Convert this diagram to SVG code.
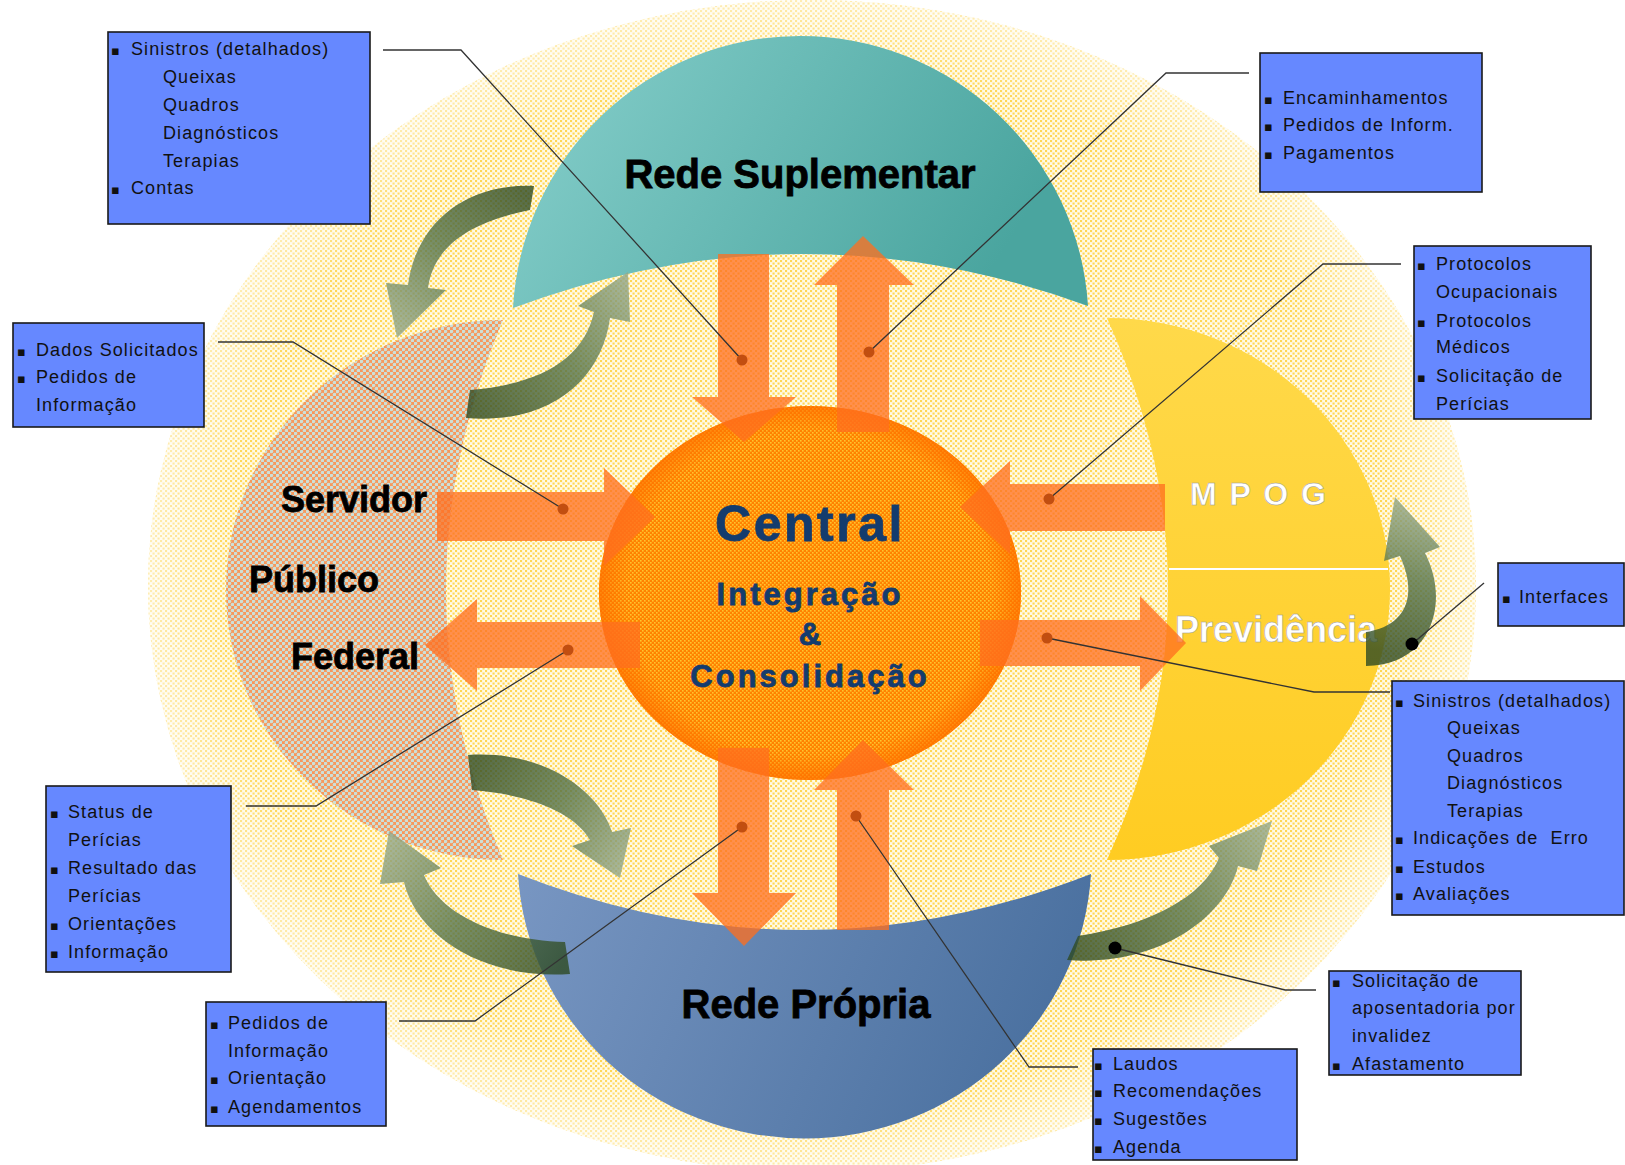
<svg xmlns="http://www.w3.org/2000/svg" width="1625" height="1165" viewBox="0 0 1625 1165">
<defs>
<pattern id="dotsY" width="5" height="5" patternUnits="userSpaceOnUse"><rect width="5" height="5" fill="#FFFAE6"/><rect width="2.1" height="2.1" fill="#FFD653"/><rect x="2.5" y="2.5" width="2.1" height="2.1" fill="#FFD653"/></pattern>
<pattern id="dotsO" width="4" height="4" patternUnits="userSpaceOnUse"><rect width="4" height="4" fill="#FF8200"/><rect width="1.6" height="1.6" fill="#FFC42E"/><rect x="2" y="2" width="1.6" height="1.6" fill="#FFC42E"/></pattern>
<pattern id="hatch" width="6" height="6" patternUnits="userSpaceOnUse"><rect width="6" height="6" fill="#F7985C"/><circle cx="1.5" cy="1.5" r="1.8" fill="#CDE0D8"/><circle cx="4.5" cy="4.5" r="1.8" fill="#CDE0D8"/></pattern>
<radialGradient id="ring" cx="0.5" cy="0.5" r="0.5"><stop offset="0.86" stop-color="#FF7000" stop-opacity="0"/><stop offset="1" stop-color="#FF7000" stop-opacity="0.75"/></radialGradient>
<radialGradient id="fade" cx="0.5" cy="0.5" r="0.5"><stop offset="0.88" stop-color="#FFFFFF" stop-opacity="0"/><stop offset="1" stop-color="#FFFFFF" stop-opacity="0.55"/></radialGradient>
<linearGradient id="teal" x1="0" y1="0" x2="1" y2="0.3"><stop offset="0" stop-color="#88D0CC"/><stop offset="1" stop-color="#4AA59F"/></linearGradient>
<linearGradient id="blue" x1="0" y1="0" x2="1" y2="0.2"><stop offset="0" stop-color="#7896C2"/><stop offset="1" stop-color="#4B71A0"/></linearGradient>
<linearGradient id="yel" x1="0" y1="0" x2="0" y2="1"><stop offset="0" stop-color="#FFD94A"/><stop offset="1" stop-color="#FFCC22"/></linearGradient>
<linearGradient id="g1" gradientUnits="userSpaceOnUse" x1="530" y1="198" x2="396" y2="342"><stop offset="0" stop-color="#2E4A22"/><stop offset="0.5" stop-color="#557349"/><stop offset="1" stop-color="#97AA8C"/></linearGradient>
<linearGradient id="g2" gradientUnits="userSpaceOnUse" x1="468" y1="403" x2="632" y2="272"><stop offset="0" stop-color="#2E4A22"/><stop offset="0.5" stop-color="#557349"/><stop offset="1" stop-color="#97AA8C"/></linearGradient>
<linearGradient id="g3" gradientUnits="userSpaceOnUse" x1="470" y1="773" x2="622" y2="881"><stop offset="0" stop-color="#2E4A22"/><stop offset="0.5" stop-color="#557349"/><stop offset="1" stop-color="#97AA8C"/></linearGradient>
<linearGradient id="g4" gradientUnits="userSpaceOnUse" x1="568" y1="957" x2="387" y2="829"><stop offset="0" stop-color="#2E4A22"/><stop offset="0.5" stop-color="#557349"/><stop offset="1" stop-color="#97AA8C"/></linearGradient>
<linearGradient id="g5" gradientUnits="userSpaceOnUse" x1="1366" y1="648" x2="1397" y2="495"><stop offset="0" stop-color="#2E4A22"/><stop offset="0.5" stop-color="#557349"/><stop offset="1" stop-color="#97AA8C"/></linearGradient>
<linearGradient id="g6" gradientUnits="userSpaceOnUse" x1="1072" y1="947" x2="1273" y2="819"><stop offset="0" stop-color="#2E4A22"/><stop offset="0.5" stop-color="#557349"/><stop offset="1" stop-color="#97AA8C"/></linearGradient>
<style>
.box rect{fill:#6688FF;stroke:#1A1A1A;stroke-width:1.6}
.box text{font-family:"Liberation Sans","DejaVu Sans",sans-serif;font-size:18px;letter-spacing:1.1px;fill:#111}
.box .b{font-family:"DejaVu Sans",sans-serif;font-size:13px;letter-spacing:0}
.lbl{font-family:"Liberation Sans",sans-serif;font-weight:bold;fill:#000;stroke:#000;stroke-width:0.8}
.ctr{font-family:"Liberation Sans",sans-serif;font-weight:bold;fill:#143C6E;stroke:#143C6E;stroke-width:0.8;text-anchor:middle}
.wht{font-family:"Liberation Sans",sans-serif;font-weight:bold;fill:#FFFFFF;stroke:#9A9A9A;stroke-width:0.5}
.oa{fill:#FF6E1E;opacity:0.76}
.ga{opacity:0.8}
.con path{fill:none;stroke:#333;stroke-width:1.3}
.dot{fill:#C24E10}
</style>
</defs>
<rect width="1625" height="1165" fill="#FFFFFF"/>
<g id="background">
<ellipse cx="812" cy="586" rx="664" ry="586" fill="url(#dotsY)"/>
<ellipse cx="812" cy="586" rx="664" ry="586" fill="url(#fade)"/>
</g>

<g id="rede-suplementar">
<path d="M513 308 A288 288 0 0 1 1088 306 Q800 201 513 308 Z" fill="url(#teal)"/>
<text class="lbl" x="800" y="188" font-size="40" text-anchor="middle">Rede Suplementar</text>
</g>
<g id="rede-propria">
<path d="M518 874 Q804 986 1091 874 A287 281 0 0 1 518 874 Z" fill="url(#blue)"/>
<text class="lbl" x="806" y="1018" font-size="40" text-anchor="middle">Rede Própria</text>
</g>
<g id="servidor">
<path d="M503 320 A277 270 0 0 0 503 860 Q389 590 503 320 Z" fill="url(#hatch)"/>
<text class="lbl" x="281" y="512" font-size="36">Servidor</text>
<text class="lbl" x="249" y="592" font-size="36">Público</text>
<text class="lbl" x="291" y="669" font-size="36">Federal</text>
</g>
<g id="mpog-previdencia">
<path d="M1107 318 A282 270 0 0 1 1107 860 Q1229 590 1107 318 Z" fill="url(#yel)"/>
<line x1="1169" y1="569" x2="1388" y2="569" stroke="#FFFFFF" stroke-width="2"/>
<text class="wht" x="1190" y="505" font-size="32" letter-spacing="2">M P O G</text>
<text class="wht" x="1175" y="642" font-size="36">Previdência</text>
</g>

<g id="central">
<ellipse cx="810" cy="593" rx="211" ry="187" fill="url(#dotsO)"/>
<ellipse cx="810" cy="593" rx="211" ry="187" fill="url(#ring)"/>
</g>

<g id="connectors">
<g id="flow-arrows">
<path class="oa" d="M718 254 H769 V397 H796 L744 442 L692 397 H718 Z"/>
<path class="oa" d="M837 432 V285 H814 L863 236 L914 285 H889 V432 Z"/>
<path class="oa" d="M718 748 H769 V893 H796 L744 946 L692 893 H718 Z"/>
<path class="oa" d="M837 930 V790 H814 L863 740 L914 790 H889 V930 Z"/>
<path class="oa" d="M437 492 H604 V468 L655 517 L604 566 V541 H437 Z"/>
<path class="oa" d="M640 622 H477 V599 L425 645 L477 691 V668 H640 Z"/>
<path class="oa" d="M1165 484 H1010 V461 L960 507 L1010 554 V531 H1165 Z"/>
<path class="oa" d="M980 620 H1140 V596 L1186 643 L1140 691 V666 H980 Z"/>
</g>
<g id="cycle-arrows">
<path class="ga" fill="url(#g1)" d="M534 186 C466 183 416 223 408 285 L386 283 L397 338 L446 290 L428 288 C434 246 470 222 530 210 Z"/>
<path class="ga" fill="url(#g2)" d="M466 418 C552 425 602 378 610 318 L630 322 L628 272 L578 306 L594 312 C584 358 542 384 470 390 Z"/>
<path class="ga" fill="url(#g3)" d="M468 755 C547 750 600 793 612 832 L631 828 L620 878 L572 846 L590 840 C576 815 535 795 472 790 Z"/>
<path class="ga" fill="url(#g4)" d="M570 974 C487 980 417 938 404 882 L380 884 L389 831 L441 868 L424 875 C440 914 496 940 565 942 Z"/>
<path class="ga" fill="url(#g5)" d="M1366 666 C1428 666 1452 606 1425 553 L1440 547 L1395 497 L1384 561 L1400 556 C1420 600 1402 627 1366 632 Z"/>
<path class="ga" fill="url(#g6)" d="M1067 960 C1158 967 1226 917 1238 866 L1257 871 L1272 821 L1209 846 L1219 858 C1203 897 1150 925 1078 936 Z"/>
</g>
<g id="central-text">
<text class="ctr" x="810" y="541" font-size="50" letter-spacing="2.5">Central</text>
<text class="ctr" x="810" y="605" font-size="31" letter-spacing="3">Integração</text>
<text class="ctr" x="810" y="645" font-size="31">&amp;</text>
<text class="ctr" x="810" y="687" font-size="31" letter-spacing="3">Consolidação</text>
</g>
<g class="con">
<path d="M383 50 H461 L742 360"/>
<path d="M1249 73 H1166 L869 352"/>
<path d="M218 342 H293 L563 509"/>
<path d="M246 806 H316 L568 650"/>
<path d="M1401 264 H1323 L1049 499"/>
<path d="M1390 692 H1314 L1047 638"/>
<path d="M1484 583 L1412 644"/>
<path d="M399 1021 H475 L742 827"/>
<path d="M1078 1067 H1029 L856 816"/>
<path d="M1316 990 H1285 L1115 948"/>
</g>
<g>
<circle class="dot" cx="742" cy="360" r="5.5"/>
<circle class="dot" cx="869" cy="352" r="5.5"/>
<circle class="dot" cx="563" cy="509" r="5.5"/>
<circle class="dot" cx="568" cy="650" r="5.5"/>
<circle class="dot" cx="1049" cy="499" r="5.5"/>
<circle class="dot" cx="1047" cy="638" r="5.5"/>
<circle class="dot" cx="742" cy="827" r="5.5"/>
<circle class="dot" cx="856" cy="816" r="5.5"/>
<circle cx="1412" cy="644" r="6.5" fill="#000"/>
<circle cx="1115" cy="948" r="6.5" fill="#000"/>
</g>
</g>

<g id="box-sinistros-sup" class="box">
<rect x="108" y="32" width="262" height="192"/>
<text y="55"><tspan class="b" x="111">▪</tspan><tspan x="131">Sinistros (detalhados)</tspan></text>
<text x="163" y="83">Queixas</text>
<text x="163" y="111">Quadros</text>
<text x="163" y="139">Diagnósticos</text>
<text x="163" y="167">Terapias</text>
<text y="194"><tspan class="b" x="111">▪</tspan><tspan x="131">Contas</tspan></text>
</g>
<g id="box-encaminhamentos" class="box">
<rect x="1260" y="53" width="222" height="139"/>
<text y="104"><tspan class="b" x="1264">▪</tspan><tspan x="1283">Encaminhamentos</tspan></text>
<text y="131"><tspan class="b" x="1264">▪</tspan><tspan x="1283">Pedidos de Inform.</tspan></text>
<text y="159"><tspan class="b" x="1264">▪</tspan><tspan x="1283">Pagamentos</tspan></text>
</g>
<g id="box-protocolos" class="box">
<rect x="1414" y="246" width="177" height="173"/>
<text y="270"><tspan class="b" x="1417">▪</tspan><tspan x="1436">Protocolos</tspan></text>
<text x="1436" y="298">Ocupacionais</text>
<text y="327"><tspan class="b" x="1417">▪</tspan><tspan x="1436">Protocolos</tspan></text>
<text x="1436" y="353">Médicos</text>
<text y="382"><tspan class="b" x="1417">▪</tspan><tspan x="1436">Solicitação de</tspan></text>
<text x="1436" y="410">Perícias</text>
</g>
<g id="box-dados" class="box">
<rect x="13" y="323" width="191" height="104"/>
<text y="356"><tspan class="b" x="17">▪</tspan><tspan x="36">Dados Solicitados</tspan></text>
<text y="383"><tspan class="b" x="17">▪</tspan><tspan x="36">Pedidos de</tspan></text>
<text x="36" y="411">Informação</text>
</g>
<g id="box-status" class="box">
<rect x="46" y="786" width="185" height="186"/>
<text y="818"><tspan class="b" x="50">▪</tspan><tspan x="68">Status de</tspan></text>
<text x="68" y="846">Perícias</text>
<text y="874"><tspan class="b" x="50">▪</tspan><tspan x="68">Resultado das</tspan></text>
<text x="68" y="902">Perícias</text>
<text y="930"><tspan class="b" x="50">▪</tspan><tspan x="68">Orientações</tspan></text>
<text y="958"><tspan class="b" x="50">▪</tspan><tspan x="68">Informação</tspan></text>
</g>
<g id="box-sinistros-prev" class="box">
<rect x="1392" y="681" width="232" height="234"/>
<text y="707"><tspan class="b" x="1395">▪</tspan><tspan x="1413">Sinistros (detalhados)</tspan></text>
<text x="1447" y="734">Queixas</text>
<text x="1447" y="762">Quadros</text>
<text x="1447" y="789">Diagnósticos</text>
<text x="1447" y="817">Terapias</text>
<text y="844" xml:space="preserve"><tspan class="b" x="1395">▪</tspan><tspan x="1413">Indicações de  Erro</tspan></text>
<text y="873"><tspan class="b" x="1395">▪</tspan><tspan x="1413">Estudos</tspan></text>
<text y="900"><tspan class="b" x="1395">▪</tspan><tspan x="1413">Avaliações</tspan></text>
</g>
<g id="box-interfaces" class="box">
<rect x="1498" y="563" width="126" height="63"/>
<text y="603"><tspan class="b" x="1502">▪</tspan><tspan x="1519">Interfaces</tspan></text>
</g>
<g id="box-aposentadoria" class="box">
<rect x="1329" y="971" width="192" height="104"/>
<text y="987"><tspan class="b" x="1332">▪</tspan><tspan x="1352">Solicitação de</tspan></text>
<text x="1352" y="1014">aposentadoria por</text>
<text x="1352" y="1042">invalidez</text>
<text y="1070"><tspan class="b" x="1332">▪</tspan><tspan x="1352">Afastamento</tspan></text>
</g>
<g id="box-pedidos" class="box">
<rect x="206" y="1002" width="180" height="124"/>
<text y="1029"><tspan class="b" x="210">▪</tspan><tspan x="228">Pedidos de</tspan></text>
<text x="228" y="1057">Informação</text>
<text y="1084"><tspan class="b" x="210">▪</tspan><tspan x="228">Orientação</tspan></text>
<text y="1113"><tspan class="b" x="210">▪</tspan><tspan x="228">Agendamentos</tspan></text>
</g>
<g id="box-laudos" class="box">
<rect x="1093" y="1049" width="204" height="111"/>
<text y="1070"><tspan class="b" x="1094">▪</tspan><tspan x="1113">Laudos</tspan></text>
<text y="1097"><tspan class="b" x="1094">▪</tspan><tspan x="1113">Recomendações</tspan></text>
<text y="1125"><tspan class="b" x="1094">▪</tspan><tspan x="1113">Sugestões</tspan></text>
<text y="1153"><tspan class="b" x="1094">▪</tspan><tspan x="1113">Agenda</tspan></text>
</g>
</svg>
